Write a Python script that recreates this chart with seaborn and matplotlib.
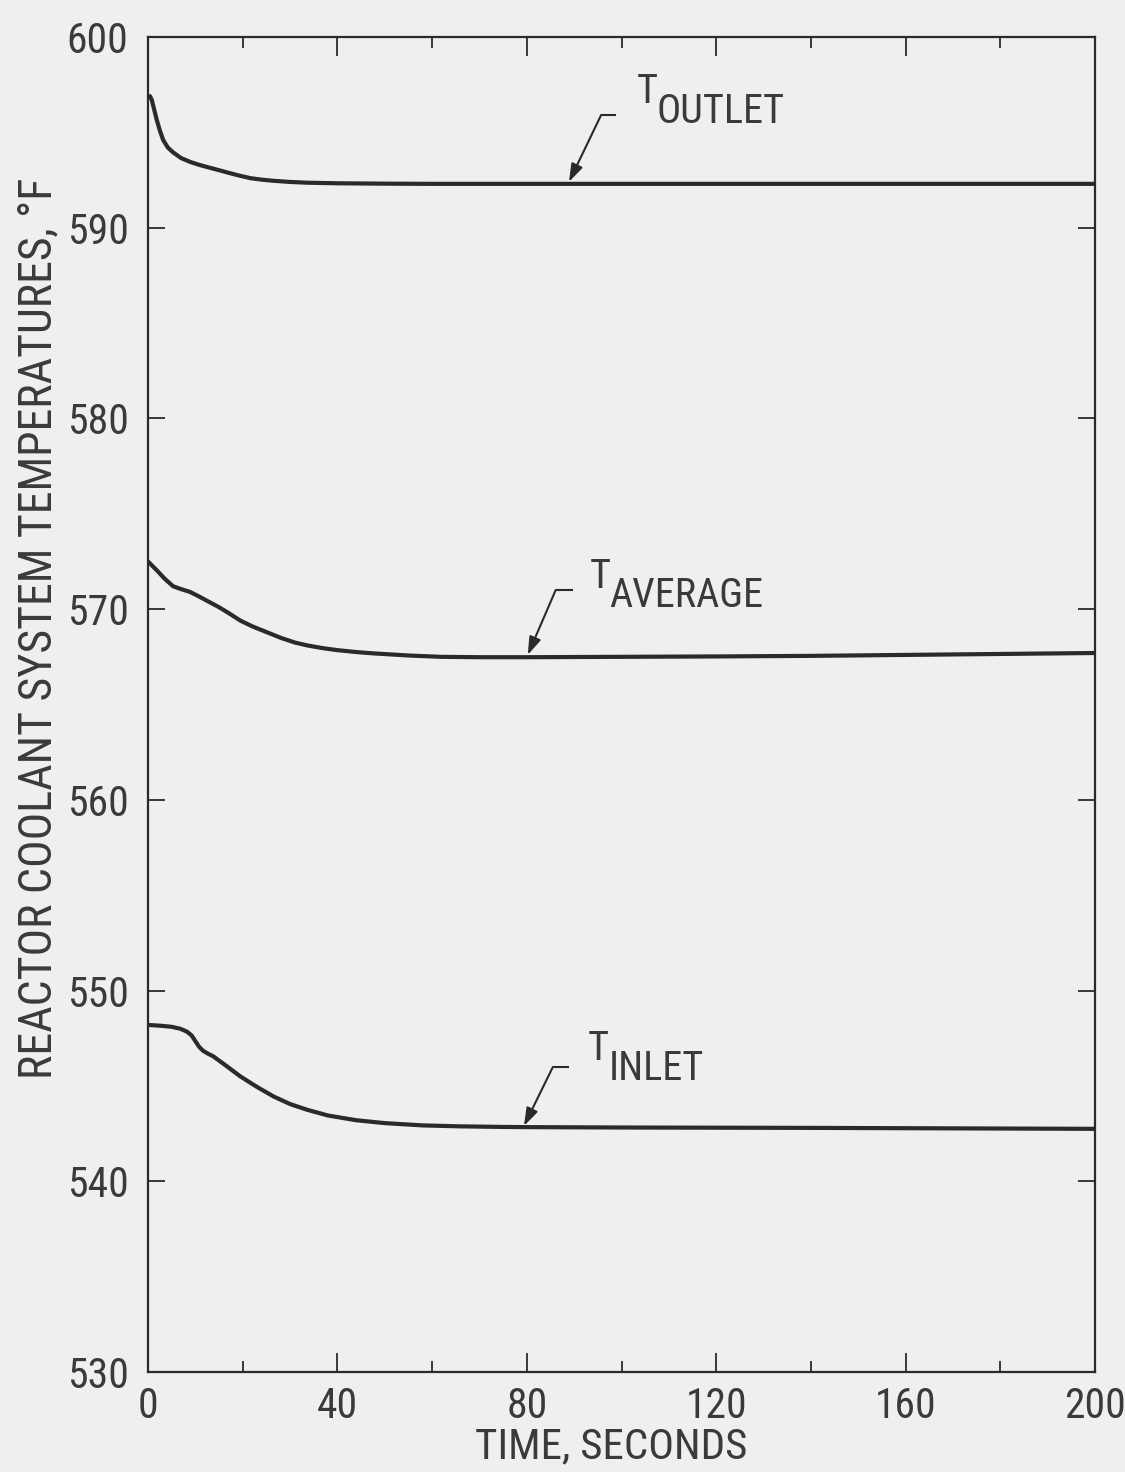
import matplotlib
matplotlib.use("Agg")
import matplotlib.pyplot as plt
from matplotlib import font_manager
from matplotlib.ticker import MultipleLocator
import seaborn as sns
import pandas as pd

# ---- data ----
t_outlet = [0, 0.4, 0.8, 1.2, 1.8, 2.5, 3.2, 4.2, 5.3, 7, 8.9, 10.5, 12.5, 14.5, 16.7, 19, 21.6, 24, 26.5, 30,
            33.6, 40, 50, 60, 80, 100, 120, 140, 160, 180, 200]
v_outlet = [596.85, 596.9, 596.7, 596.3, 595.7, 595.1, 594.6, 594.2, 593.95, 593.65, 593.45, 593.32, 593.18,
            593.05, 592.9, 592.75, 592.6, 592.52, 592.46, 592.4, 592.36, 592.33, 592.31, 592.3, 592.3, 592.3,
            592.3, 592.3, 592.3, 592.3, 592.3]

t_average = [0, 1, 2, 3.5, 5.3, 7, 8.9, 10.5, 12, 15, 17, 19.5, 22, 25, 28, 31, 33.6, 37, 40, 44, 47.6, 55, 61.8,
             70, 80, 100, 120, 140, 160, 180, 200]
v_average = [572.5, 572.25, 572.0, 571.6, 571.2, 571.05, 570.9, 570.7, 570.5, 570.1, 569.8, 569.4, 569.1, 568.8,
             568.5, 568.25, 568.1, 567.95, 567.85, 567.75, 567.68, 567.57, 567.5, 567.48, 567.48, 567.5, 567.52,
             567.55, 567.6, 567.65, 567.7]

t_inlet = [0, 3, 5, 6.8, 8.2, 9.2, 10, 10.8, 11.6, 12.6, 13.8, 16, 19.5, 23, 26.5, 30, 33.6, 38, 44, 50, 58, 66,
           75, 80, 100, 140, 200]
v_inlet = [548.2, 548.15, 548.1, 548.0, 547.85, 547.65, 547.35, 547.05, 546.85, 546.7, 546.55, 546.15, 545.5,
           544.95, 544.45, 544.05, 543.75, 543.45, 543.2, 543.05, 542.93, 542.88, 542.85, 542.84, 542.82, 542.8,
           542.75]

x_ticks = [0, 40, 80, 120, 160, 200]
y_ticks = [530, 540, 550, 560, 570, 580, 590, 600]

# ---- style ----
sns.set_theme(style="ticks")

# look for a condensed / narrow sans font
cand = None
prefs = ["Liberation Sans Narrow", "DejaVu Sans Condensed", "Roboto Condensed", "Open Sans Condensed",
         "Noto Sans Condensed", "Arial Narrow"]
entries = font_manager.fontManager.ttflist
for p in prefs:
    for f in entries:
        if f.name == p and f.style == "normal" and f.weight in (400, "normal", "regular"):
            cand = f.fname
            break
    if cand:
        break
if cand is None:
    for f in entries:
        fn = f.fname.lower()
        if ("condensed" in fn or "narrow" in fn) and "bold" not in fn and "italic" not in fn \
                and "oblique" not in fn and "light" not in fn and "mono" not in fn and "serif" not in fn \
                and "cjk" not in fn and "semi" not in fn and "thin" not in fn and "black" not in fn \
                and "medium" not in fn and "extra" not in fn:
            cand = f.fname
            break

condensed = cand is not None
if condensed:
    def fp(size):
        return font_manager.FontProperties(fname=cand, size=size)
    s_tick, s_lab, s_ylab, s_ann = 30, 31, 33, 29
else:
    def fp(size):
        return font_manager.FontProperties(family="DejaVu Sans", size=size)
    s_tick, s_lab, s_ylab, s_ann = 24, 25, 22, 23

bg = "#efefef"
ink = "#2a2a2a"
txt = "#3a3a3a"

fig = plt.figure(figsize=(11.25, 14.72), dpi=100, facecolor=bg)
ax = fig.add_axes([148 / 1125, 1 - 1372 / 1472, (1095 - 148) / 1125, (1372 - 37) / 1472])
ax.set_facecolor(bg)

df = pd.concat([
    pd.DataFrame({"t": t_outlet, "v": v_outlet, "s": "outlet"}),
    pd.DataFrame({"t": t_average, "v": v_average, "s": "average"}),
    pd.DataFrame({"t": t_inlet, "v": v_inlet, "s": "inlet"}),
])
sns.lineplot(data=df, x="t", y="v", units="s", estimator=None, color=ink, lw=3.0, ax=ax, legend=False)

ax.set_xlim(0, 200)
ax.set_ylim(530, 600)
ax.set_xticks(x_ticks)
ax.set_yticks(y_ticks)
ax.xaxis.set_minor_locator(MultipleLocator(20))
for s in ax.spines.values():
    s.set_visible(True)
    s.set_linewidth(1.6)
    s.set_color(ink)
ax.tick_params(axis="x", which="major", direction="in", length=14, width=1.3, top=True, bottom=True,
               pad=10, colors=ink, labelcolor=txt)
ax.tick_params(axis="x", which="minor", direction="in", length=8, width=1.3, top=True, bottom=True, colors=ink)
ax.tick_params(axis="y", which="major", direction="in", length=12, width=1.3, left=True, right=True,
               pad=14, colors=ink, labelcolor=txt)
for lab in ax.get_xticklabels() + ax.get_yticklabels():
    lab.set_fontproperties(fp(s_tick))
ax.set_xlabel("")
ax.set_ylabel("")

fig.text(611 / 1125, 1 - 1447 / 1472, "TIME, SECONDS", ha="center", va="center",
         fontproperties=fp(s_lab), color=txt)
fig.text(38 / 1125, 1 - 628 / 1472, "REACTOR COOLANT SYSTEM TEMPERATURES, °F", rotation=90,
         ha="center", va="center", fontproperties=fp(s_ylab), color=txt)

# ---- annotations ----
labels = [
    # (T left, T bottom, sub left, sub bottom, sub text, dash t0, dash t1, dash y, tip t, tip y)
    (103.3, 596.54, 107.3, 595.49, "OUTLET", 95.7, 98.8, 595.91, 88.9, 592.40),
    (93.3, 571.1, 97.5, 570.1, "AVERAGE", 86.1, 89.7, 571.0, 80.2, 567.6),
    (92.9, 546.36, 97.3, 545.3, "INLET", 85.5, 88.9, 545.99, 79.4, 542.9),
]
for tx, ty, sx, sy, sub, d0, d1, dy, ptx, pty in labels:
    ax.text(tx, ty, "T", ha="left", va="baseline", fontproperties=fp(s_ann), color=txt)
    ax.text(sx, sy, sub, ha="left", va="baseline", fontproperties=fp(s_ann), color=txt)
    ax.plot([d0, d1], [dy, dy], color=ink, lw=1.5, solid_capstyle="butt")
    ax.annotate("", xy=(ptx, pty), xytext=(d0, dy),
                arrowprops=dict(arrowstyle="-|>,head_length=0.9,head_width=0.3", color=ink, lw=1.5,
                                shrinkA=0, shrinkB=0))

fig.savefig("out.png", dpi=100, facecolor=bg)
